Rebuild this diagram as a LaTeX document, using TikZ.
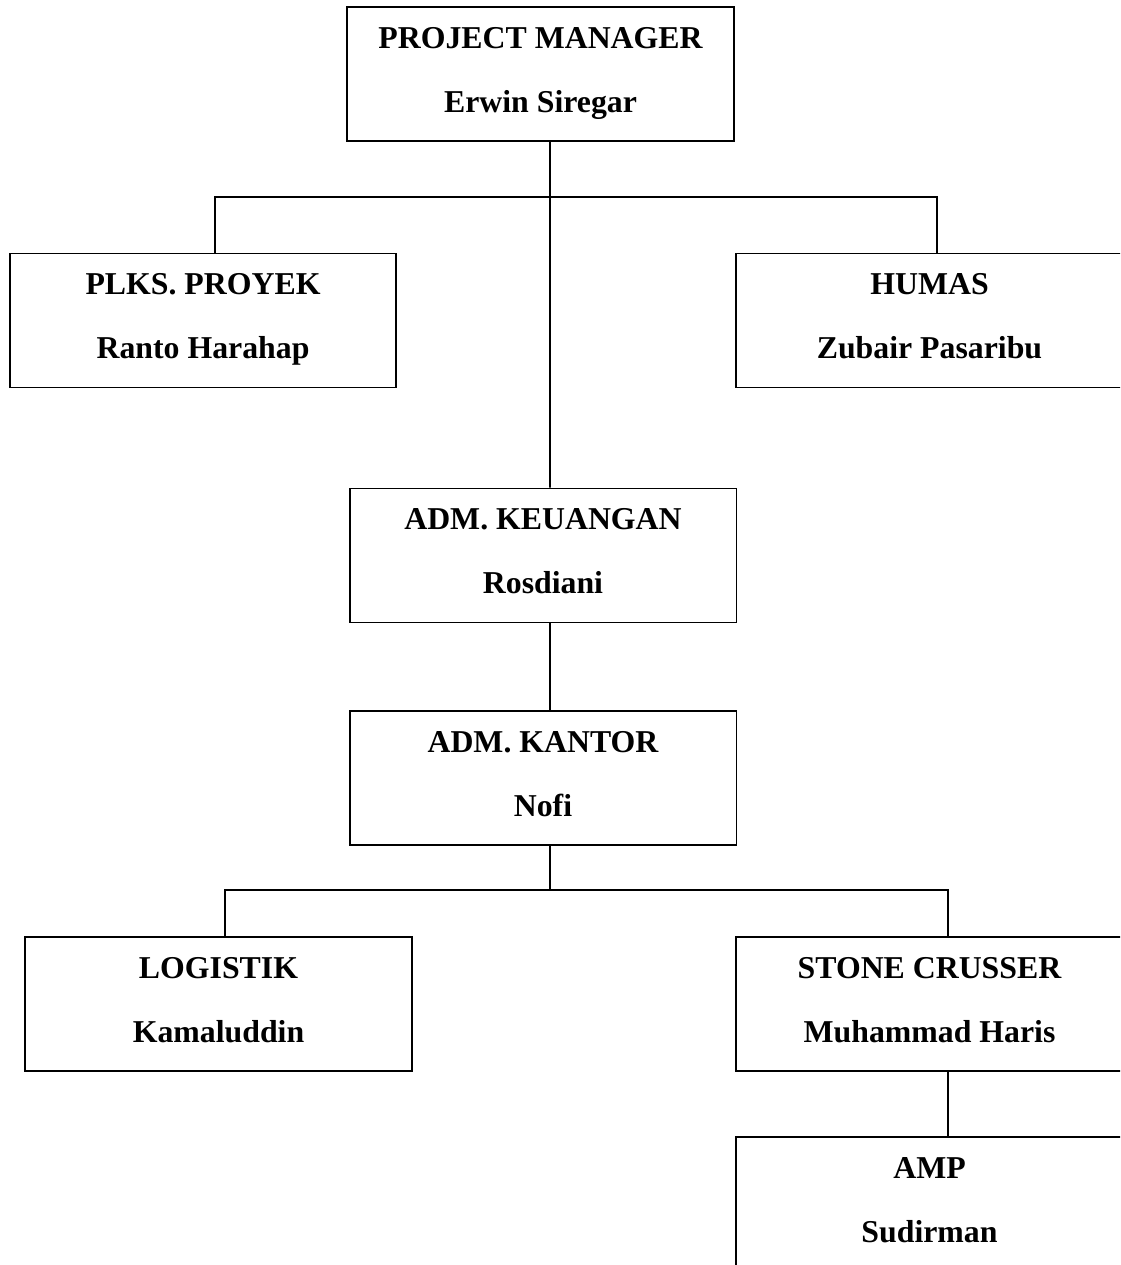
\documentclass[tikz,border=0pt]{standalone}
\usepackage{fontspec}
\setmainfont{Liberation Serif}
\usetikzlibrary{calc}
\begin{document}
\begin{tikzpicture}[x=0.02cm,y=-0.02cm,
  box/.style={draw, line width=1.1pt, rectangle, inner sep=0pt, minimum width=7.74cm, minimum height=2.68cm},
  lbl/.style={anchor=base, inner sep=0pt, font=\bfseries\fontsize{18.1}{22}\selectfont},
  link/.style={line width=1.1pt}]
\clip (0,0) rectangle (1120,1265);
% boxes
\node[box] (pm) at (540.5,74) {};
\node[box] (plks) at (203,320.5) {};
\node[box] (humas) at (929.5,320.5) {};
\node[box] (keu) at (543,555.5) {};
\node[box] (kantor) at (543,778) {};
\node[box] (log) at (218.5,1004) {};
\node[box] (stone) at (929.5,1004) {};
\node[box] (amp) at (929.5,1204) {};
% labels
\node[lbl] (pmA) at ($(pm.north)+(0,42)$) {PROJECT MANAGER};
\node[lbl] (pmB) at ($(pm.north)+(0,106)$) {Erwin Siregar};
\node[lbl] (plksA) at ($(plks.north)+(0,42)$) {PLKS. PROYEK};
\node[lbl] (plksB) at ($(plks.north)+(0,106)$) {Ranto Harahap};
\node[lbl] (humasA) at ($(humas.north)+(0,42)$) {HUMAS};
\node[lbl] (humasB) at ($(humas.north)+(0,106)$) {Zubair Pasaribu};
\node[lbl] (keuA) at ($(keu.north)+(0,42)$) {ADM. KEUANGAN};
\node[lbl] (keuB) at ($(keu.north)+(0,106)$) {Rosdiani};
\node[lbl] (kantorA) at ($(kantor.north)+(0,42)$) {ADM. KANTOR};
\node[lbl] (kantorB) at ($(kantor.north)+(0,106)$) {Nofi};
\node[lbl] (logA) at ($(log.north)+(0,42)$) {LOGISTIK};
\node[lbl] (logB) at ($(log.north)+(0,106)$) {Kamaluddin};
\node[lbl] (stoneA) at ($(stone.north)+(0,42)$) {STONE CRUSSER};
\node[lbl] (stoneB) at ($(stone.north)+(0,106)$) {Muhammad Haris};
\node[lbl] (ampA) at ($(amp.north)+(0,42)$) {AMP};
\node[lbl] (ampB) at ($(amp.north)+(0,106)$) {Sudirman};
% connectors
\coordinate (j1) at (550,197);
\coordinate (j2) at (550,890);
\draw[link] ($(pm.south)+(9.5,0)$) -- ($(keu.north)+(7,0)$);
\draw[link] ($(plks.north)+(12,0)$) |- (j1) -| ($(humas.north)+(7.5,0)$);
\draw[link] ($(keu.south)+(7,0)$) -- ($(kantor.north)+(7,0)$);
\draw[link] ($(kantor.south)+(7,0)$) -- (j2);
\draw[link] ($(log.north)+(6.5,0)$) |- (j2) -| ($(stone.north)+(18.5,0)$);
\draw[link] ($(stone.south)+(18.5,0)$) -- ($(amp.north)+(18.5,0)$);
\end{tikzpicture}
\end{document}
